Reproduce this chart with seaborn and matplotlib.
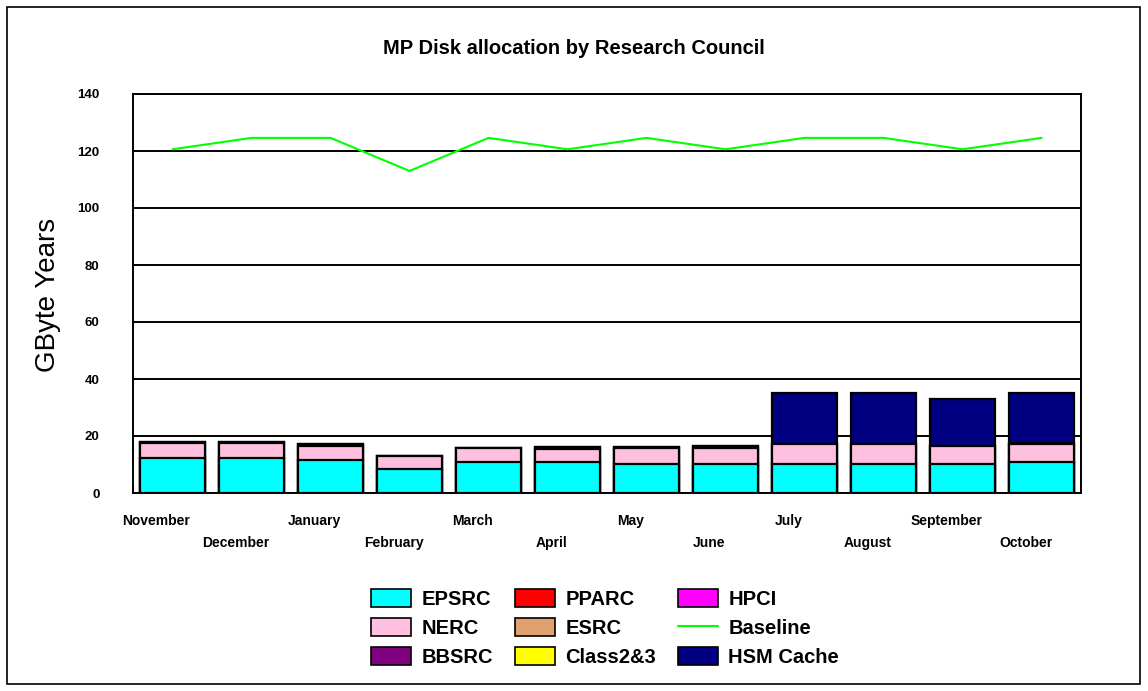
import numpy as np
import pandas as pd
import matplotlib
matplotlib.use("Agg")
import matplotlib.pyplot as plt
import matplotlib.patches as mpatches
from matplotlib.lines import Line2D
from matplotlib.transforms import ScaledTranslation
import seaborn as sns

# data (GByte Years)
months = ["November", "December", "January", "February", "March", "April",
          "May", "June", "July", "August", "September", "October"]
epsrc = [12.4, 12.4, 11.6, 8.3, 11.0, 11.0, 10.2, 10.2, 10.2, 10.2, 10.2, 10.9]
nerc = [5.0, 5.0, 5.0, 4.8, 4.9, 4.5, 5.6, 5.7, 7.0, 7.0, 6.3, 6.3]
bbsrc = [0.6, 0.6, 0.6, 0.0, 0.0, 0.5, 0.4, 0.6, 0.0, 0.0, 0.0, 0.5]
hsm_cache = [0.0, 0.0, 0.0, 0.0, 0.0, 0.0, 0.0, 0.0, 17.8, 17.8, 16.4, 17.3]
baseline = [120.6, 124.6, 124.6, 113.0, 124.6, 120.6, 124.6, 120.6, 124.6, 124.6, 120.6, 124.6]

colors = {"EPSRC": "#00FFFF", "NERC": "#FFBFDF", "BBSRC": "#800080", "PPARC": "#FF0000",
          "ESRC": "#E0A070", "Class2&3": "#FFFF00", "HPCI": "#FF00FF",
          "Baseline": "#00FF00", "HSM Cache": "#000080"}

sns.set_style("white")
plt.rcParams["font.family"] = ["Liberation Sans", "DejaVu Sans"]
plt.rcParams.update({"text.color": "black", "axes.labelcolor": "black",
                     "xtick.color": "black", "ytick.color": "black"})

df = pd.DataFrame({"month": months, "EPSRC": epsrc, "NERC": nerc,
                   "BBSRC": bbsrc, "HSM Cache": hsm_cache})
df["c1"] = df["EPSRC"]
df["c2"] = df["c1"] + df["NERC"]
df["c3"] = df["c2"] + df["BBSRC"]
df["c4"] = df["c3"] + df["HSM Cache"]

fig = plt.figure(figsize=(11.48, 6.91), dpi=100)
ax = fig.add_axes([133 / 1148, 1 - 493 / 691, 948 / 1148, 399 / 691])

# stacked bars: draw cumulative totals from the top layer down
for col, name in [("c4", "HSM Cache"), ("c3", "BBSRC"), ("c2", "NERC"), ("c1", "EPSRC")]:
    sns.barplot(data=df, x="month", y=col, order=months, color=colors[name],
                saturation=1, width=0.835, edgecolor="black", linewidth=1.6, ax=ax)

sns.lineplot(x=np.arange(len(months)), y=baseline, color=colors["Baseline"],
             linewidth=1.5, ax=ax)

ax.set_xlim(-0.5, 11.5)
ax.set_ylim(0, 140)
ax.set_yticks(np.arange(0, 141, 20))
ax.yaxis.grid(True, color="black", linewidth=1.4)
ax.xaxis.grid(False)
ax.set_axisbelow(True)
for s in ax.spines.values():
    s.set_color("black")
    s.set_linewidth(1.4)
ax.set_xlabel("")
ax.set_ylabel("")

# staggered month labels
even = np.arange(0, 12, 2)
odd = np.arange(1, 12, 2)
ax.set_xticks(even, [months[i] for i in even])
ax.set_xticks(odd, [months[i] for i in odd], minor=True)
ax.tick_params(axis="x", which="major", length=0, pad=15, labelsize=10, labelcolor="black")
ax.tick_params(axis="x", which="minor", length=0, pad=31, labelsize=10, labelcolor="black")
ax.tick_params(axis="y", length=0, pad=24, labelsize=9.5, labelcolor="black")
for lab in ax.get_xticklabels(which="both") + ax.get_yticklabels():
    lab.set_fontweight("bold")
shift = ScaledTranslation(-0.16, 0, fig.dpi_scale_trans)
for lab in ax.get_xticklabels(which="both"):
    lab.set_transform(lab.get_transform() + shift)

fig.text(48 / 1148, 1 - 295 / 691, "GByte Years", rotation=90, fontsize=20,
         ha="center", va="center", color="black")
fig.text(0.5, 1 - 48 / 691, "MP Disk allocation by Research Council",
         fontsize=14.5, fontweight="bold", ha="center", va="center", color="black")

# legend
order = ["EPSRC", "NERC", "BBSRC", "PPARC", "ESRC", "Class2&3", "HPCI", "Baseline", "HSM Cache"]
handles = []
for name in order:
    if name == "Baseline":
        handles.append(Line2D([], [], color=colors[name], linewidth=1.5))
    else:
        handles.append(mpatches.Patch(facecolor=colors[name], edgecolor="black", linewidth=1.2))
leg = fig.legend(handles, order, ncol=3, loc="center", bbox_to_anchor=(605 / 1148, 1 - 628 / 691),
                 frameon=False, prop={"size": 14.5, "weight": "bold"},
                 handlelength=2.0, handleheight=1.0, handletextpad=0.5,
                 labelspacing=0.45, columnspacing=1.1, labelcolor="black")

# outer border
fig.patches.append(mpatches.Rectangle((7 / 1148, 7 / 691), 1133 / 1148, 677 / 691,
                                      transform=fig.transFigure, fill=False,
                                      edgecolor="black", linewidth=1.2))

fig.savefig("out.png", dpi=100)
